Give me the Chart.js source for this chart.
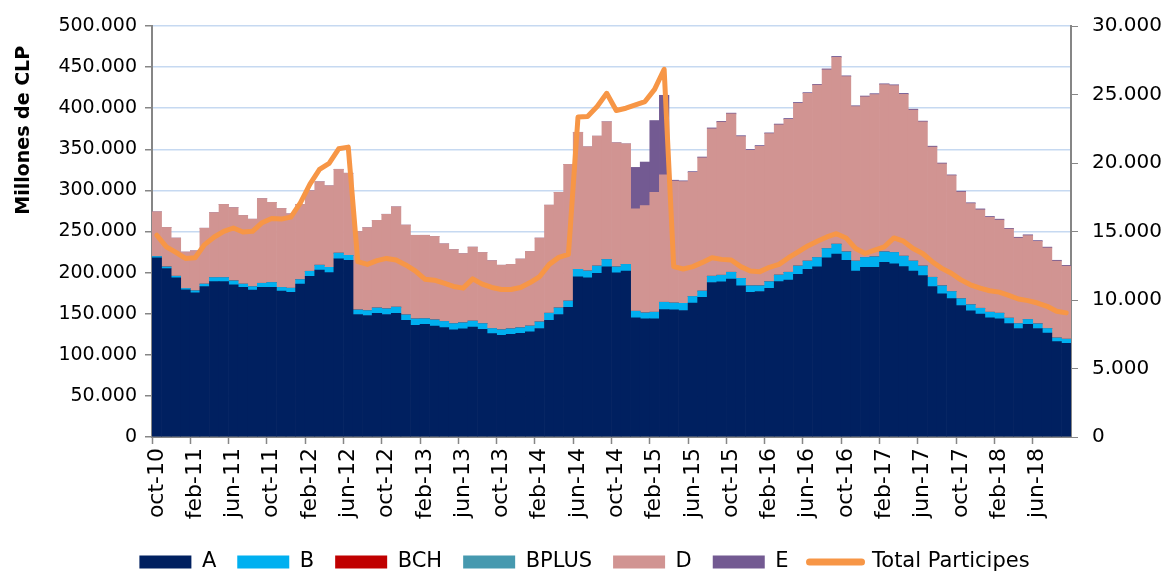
<!DOCTYPE html>
<html>
<head>
<meta charset="utf-8">
<script src="https://cdn.jsdelivr.net/npm/chart.js@4/dist/chart.umd.min.js"></script>
<style>
html,body{margin:0;padding:0;background:#fff;}
#wrap{width:1169px;height:571px;position:relative;overflow:hidden;}
</style>
</head>
<body>
<div id="wrap"><canvas id="c" width="1169" height="571"></canvas></div>
<script>
// Monthly categories oct-10 .. sep-18
const categories = [
 'oct-10','nov-10','dic-10','ene-11','feb-11','mar-11','abr-11','may-11','jun-11','jul-11','ago-11','sep-11',
 'oct-11','nov-11','dic-11','ene-12','feb-12','mar-12','abr-12','may-12','jun-12','jul-12','ago-12','sep-12',
 'oct-12','nov-12','dic-12','ene-13','feb-13','mar-13','abr-13','may-13','jun-13','jul-13','ago-13','sep-13',
 'oct-13','nov-13','dic-13','ene-14','feb-14','mar-14','abr-14','may-14','jun-14','jul-14','ago-14','sep-14',
 'oct-14','nov-14','dic-14','ene-15','feb-15','mar-15','abr-15','may-15','jun-15','jul-15','ago-15','sep-15',
 'oct-15','nov-15','dic-15','ene-16','feb-16','mar-16','abr-16','may-16','jun-16','jul-16','ago-16','sep-16',
 'oct-16','nov-16','dic-16','ene-17','feb-17','mar-17','abr-17','may-17','jun-17','jul-17','ago-17','sep-17',
 'oct-17','nov-17','dic-17','ene-18','feb-18','mar-18','abr-18','may-18','jun-18','jul-18','ago-18','sep-18'
];

// Millones de CLP
const serieA = [
 218000,205000,193600,179000,175500,183000,189000,189000,185000,182000,
 178700,182000,182000,177500,176000,186000,195600,203000,200000,216900,
 215000,149000,147800,150600,149000,150600,141800,136000,137000,135000,
 133000,130500,131700,133700,131000,125700,123700,125000,126000,128000,
 132000,142000,149000,157800,194800,193600,199000,207000,199600,202000,
 145000,143700,143700,155000,154600,153800,163000,170000,188000,188800,
 192000,184000,176000,177000,181000,189000,191000,198000,204000,207000,
 218000,222500,214800,202000,206400,206400,212400,210800,207200,202000,
 196400,183000,174300,168300,159900,153400,149400,145000,143700,138000,
 132000,137000,132000,126500,116000,114000
];
const serieB = [
 1600,2000,2000,1700,2500,3000,5000,5000,5000,4000,
 4300,5000,6000,4500,5000,5500,6000,6000,6400,6800,
 6000,5600,6000,6400,7000,7400,6800,7700,7000,7500,
 7600,7500,7300,7300,7000,6300,6800,6700,7000,7000,
 8000,8600,8000,7600,9200,8400,9000,9000,7400,8000,
 8000,7300,8100,8900,8400,8800,8000,7500,7600,8000,
 8400,9000,8000,7000,8000,8000,9400,10000,10000,11400,
 11300,12100,10500,12000,12000,12900,12900,13700,12800,12000,
 11600,11300,9700,8700,8400,7600,7200,6800,6900,6600,
 6000,6000,5700,5500,4500,5000
];
const serieBCH = [
 0,0,0,0,0,0,0,0,0,0, 0,0,0,0,0,0,0,0,0,0, 0,0,0,0,0,0,0,0,0,0,
 0,0,0,0,0,0,0,0,0,0, 0,0,0,0,0,0,0,0,0,0, 0,0,0,0,0,0,0,0,0,0,
 0,0,0,0,0,0,0,0,0,0, 0,0,0,0,0,0,0,0,0,0, 0,0,0,0,0,0,0,0,0,0,
 0,0,0,0,0,0
];
const serieBPLUS = [
 0,0,0,0,0,0,0,0,0,0, 0,0,0,0,0,0,0,0,0,0, 0,0,0,0,0,0,0,0,0,0,
 0,0,0,0,0,0,0,0,0,0, 0,0,0,0,0,0,0,0,0,0, 0,0,0,0,0,0,0,0,0,0,
 0,0,0,0,0,0,0,0,0,0, 0,0,0,0,0,0,0,0,0,0, 0,0,0,0,0,0,0,0,0,0,
 0,0,0,0,0,0
];
const serieD = [
 54400,48000,46400,44300,48500,68000,79000,89000,89000,83500,
 82000,103000,97500,96000,90500,91500,98000,101500,99200,102000,
 99900,95400,100800,106500,115000,122000,109200,101700,101400,101500,
 94400,90000,84000,90000,86500,82500,78500,78300,83500,90700,
 102000,131400,140600,166300,166700,151000,158000,167500,151000,146600,
 124500,130500,145800,155100,148400,148100,150900,162100,179400,186200,
 192600,172600,164800,169600,180000,182700,186100,198000,204000,209600,
 217500,227400,213100,188000,195400,197400,203400,203000,197000,183800,
 175300,158500,148300,140900,129700,123000,119900,115500,113400,108200,
 104000,102000,100300,98000,93500,88800
];
const serieE = [
 0,0,0,0,0,0,0,0,0,0, 0,0,0,0,0,0,0,0,0,0, 0,0,0,0,0,0,0,0,0,0,
 0,0,0,0,0,0,0,0,0,0, 0,0,0,0,0,0,0,0,0,0,
 50500,53000,87400,96700,1000,1000,1000,1000,1000,1000,
 1000,1000,1000,1000,1000,1000,1000,1000,1000,1000,
 1000,1000,1000,1000,1000,1000,1000,1000,1000,1000,
 1000,1000,1000,1000,1000,1000,1000,1000,1000,1000,
 1000,1000,1000,1000,1000,1000
];
// Número total de partícipes (eje derecho)
const totalParticipes = [
 14725,13880,13470,13035,13085,14045,14600,15015,15255,14965,
 15015,15640,15955,15905,16050,17085,18460,19540,19975,21035,
 21160,12795,12600,12870,13035,12920,12555,12120,11520,11445,
 11225,10990,10865,11545,11155,10915,10770,10770,10915,11275,
 11710,12600,13110,13325,23350,23400,24120,25085,23835,24000,
 24240,24485,25375,26840,12435,12265,12435,12745,13085,12965,
 12920,12435,12120,12070,12385,12600,13085,13520,13950,14290,
 14600,14840,14530,13760,13395,13640,13880,14530,14290,13760,
 13395,12795,12310,11950,11470,11110,10865,10675,10575,10340,
 10070,9955,9780,9540,9180,9060
];
const leftTicks = {min: 0, max: 500000, step: 50000};
const rightTicks = {min: 0, max: 30000, step: 5000};

const FONT = 'DejaVu Sans';
const GRID = '#C6D9F1';
const AXIS = '#868686';
const TRANSP = 'rgba(0,0,0,0)';
const fmt = v => String(Math.round(v)).replace(/\B(?=(\d{3})+(?!\d))/g, '.');

Chart.defaults.font.family = FONT;

function barDs(label, data, color) {
  return {type: 'bar', label, data, backgroundColor: color, borderWidth: 0,
          yAxisID: 'y', stack: 's', order: 2, barPercentage: 1, categoryPercentage: 1};
}

new Chart(document.getElementById('c'), {
  data: {
    labels: categories,
    datasets: [
      barDs('A', serieA, '#002060'),
      barDs('B', serieB, '#00B0F0'),
      barDs('BCH', serieBCH, '#C00000'),
      barDs('BPLUS', serieBPLUS, '#4699AF'),
      barDs('D', serieD, '#D19492'),
      barDs('E', serieE, '#735A92'),
      {type: 'line', label: 'Total Participes', data: totalParticipes, yAxisID: 'y1',
       borderColor: '#F79646', backgroundColor: '#F79646', borderWidth: 5, pointRadius: 0,
       pointHoverRadius: 0, tension: 0, order: 0, borderJoinStyle: 'round', borderCapStyle: 'round'}
    ]
  },
  options: {
    responsive: false,
    animation: false,
    devicePixelRatio: 1,
    layout: {padding: {left: 0, right: 0, top: 22, bottom: -11.5}},
    plugins: {
      tooltip: {enabled: false},
      legend: {
        position: 'bottom',
        labels: {
          color: '#000',
          font: {family: FONT, size: 21},
          usePointStyle: true,
          pointStyleWidth: 52,
          boxWidth: 52,
          boxHeight: 13,
          padding: 21,
          sort: (a, b) => a.datasetIndex - b.datasetIndex,
          generateLabels(chart) {
            const items = Chart.defaults.plugins.legend.labels.generateLabels(chart);
            items.forEach(it => {
              const ds = chart.data.datasets[it.datasetIndex];
              if (ds.type === 'line') {
                it.pointStyle = 'line';
                it.lineWidth = 7;
                it.strokeStyle = '#F79646';
                it.lineCap = 'round';
              } else {
                it.pointStyle = 'rect';
                it.lineWidth = 0;
              }
            });
            return items;
          }
        }
      }
    },
    scales: {
      x: {
        stacked: true,
        offset: true,
        grid: {
          offset: true,
          drawOnChartArea: false,
          drawTicks: true,
          tickLength: 7,
          tickWidth: 1.5,
          tickColor: ctx => (ctx.index % 4 === 0 ? AXIS : TRANSP),
          color: TRANSP
        },
        border: {display: true, color: AXIS, width: 2},
        ticks: {
          autoSkip: false,
          minRotation: 90,
          maxRotation: 90,
          padding: 4,
          color: '#000',
          font: {family: FONT, size: 22},
          callback: (v, i) => (i % 4 === 0 ? categories[i] : '')
        },
        afterFit: s => { s.height = 93.5; }
      },
      y: {
        stacked: true,
        position: 'left',
        min: leftTicks.min,
        max: leftTicks.max,
        ticks: {stepSize: leftTicks.step, callback: fmt, padding: 8, color: '#000',
                font: {family: FONT, size: 19}},
        grid: {
          color: ctx => (ctx.tick && ctx.tick.value === 0 ? TRANSP : GRID),
          lineWidth: 1.5,
          tickColor: AXIS,
          tickLength: 7
        },
        border: {display: true, color: AXIS, width: 2},
        title: {display: true, text: 'Millones de CLP\u00A0\u00A0\u00A0', align: 'end', color: '#000',
                font: {family: FONT, size: 19, weight: 'bold'}, padding: {top: 13, bottom: 0}},
        afterFit: s => { s.width = 152; }
      },
      y1: {
        position: 'right',
        min: rightTicks.min,
        max: rightTicks.max,
        ticks: {stepSize: rightTicks.step, callback: fmt, padding: 14, color: '#000',
                font: {family: FONT, size: 20}},
        grid: {drawOnChartArea: false, tickColor: AXIS, tickLength: 7},
        border: {display: true, color: AXIS, width: 2},
        afterFit: s => { s.width = 98; }
      }
    }
  }
});
</script>
</body>
</html>
